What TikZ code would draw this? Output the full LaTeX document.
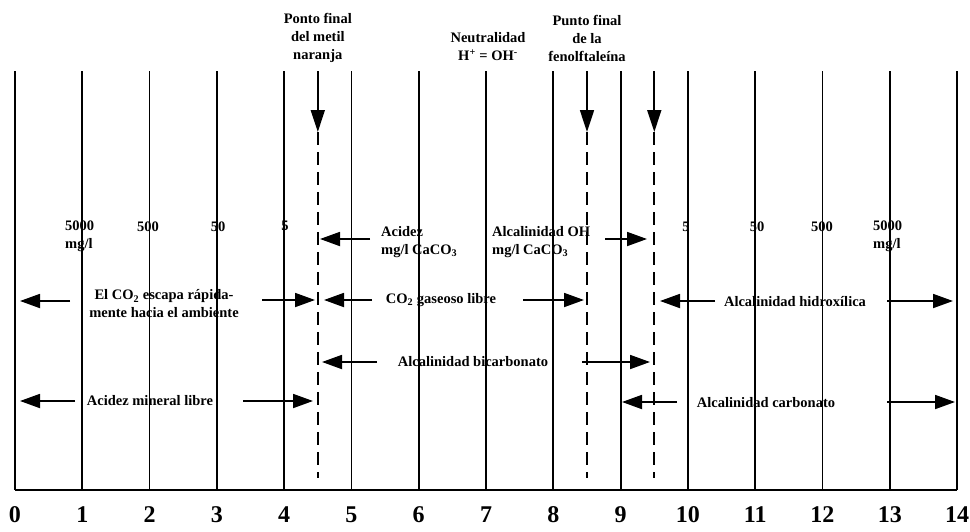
\documentclass[tikz,border=0pt]{standalone}
\usepackage{fontspec}
\setmainfont{Liberation Serif}
\usetikzlibrary{arrows.meta}
\begin{document}
\begin{tikzpicture}[x=1pt,y=-1pt,
  lbl/.style={font=\bfseries\fontsize{14.5}{18}\selectfont, align=center, inner sep=0pt},
  lbll/.style={font=\bfseries\fontsize{14.5}{18}\selectfont, align=left, inner sep=0pt, anchor=north west},
  num/.style={font=\bfseries\fontsize{24}{24}\selectfont, inner sep=0pt},
  phline/.style={line width=1.8pt},
  endline/.style={line width=1.8pt, dash pattern=on 13pt off 7pt},
  arr/.style={line width=1.8pt, -{Triangle[length=20pt,width=14pt]}},
  darr/.style={line width=1.7pt, -{Triangle[length=22pt,width=14pt]}}
]
\useasboundingbox (0,0) rectangle (970,531);

% pH lines and numbers
\foreach \i in {0,...,14} {
  \coordinate (top\i) at ({15+67.29*\i},71);
  \coordinate (bot\i) at ({15+67.29*\i},490);
  \draw[phline] (top\i) -- (bot\i);
  \node[num] (n\i) at ({15+67.29*\i},515) {\i};
}
\draw[line width=1.5pt] (bot0) -- (bot14);

% end-point markers (arrows + dashed lines)
\foreach \nm/\x in {mo/317.8, fa/587.0, fb/654.3} {
  \coordinate (\nm t) at (\x,71);
  \coordinate (\nm b) at (\x,132);
  \coordinate (\nm e) at (\x,478);
  \draw[darr] (\nm t) -- (\nm b);
  \draw[endline] (\nm b) -- (\nm e);
}

% top labels
\node[lbl] (lmo) at (317.8,38) {Ponto final\\del metil\\naranja};
\node[lbl] (lneu) at (488,47) {Neutralidad\\H\textsuperscript{+} = OH\textsuperscript{-}};
\node[lbl] (lff) at (587,38) {Punto final\\de la\\fenolftaleína};

% concentration labels
\node[lbll] (c5000a) at (65,221) {5000\\mg/l};
\node[lbl] (c500a) at (148,227) {500};
\node[lbl] (c50a) at (218,227) {50};
\node[lbl] (c5a) at (285,226) {5};
\node[lbl] (c5b) at (686,227) {5};
\node[lbl] (c50b) at (757,227) {50};
\node[lbl] (c500b) at (822,227) {500};
\node[lbll] (c5000b) at (873,221) {5000\\mg/l};

% row 1
\node[lbll] (lacid) at (381,226) {Acidez\\mg/l CaCO\textsubscript{3}};
\node[lbll] (lalkoh) at (492,226) {Alcalinidad OH\\mg/l CaCO\textsubscript{3}};
\coordinate (r1a) at (370,239); \coordinate (r1b) at (320,239);
\coordinate (r1c) at (605,239); \coordinate (r1d) at (647,239);
\draw[arr] (r1a) -- (r1b);
\draw[arr] (r1c) -- (r1d);

% row 2
\node[lbl] (lco2esc) at (164,304) {El CO\textsubscript{2} escapa rápida-\\mente hacia el ambiente};
\node[lbl] (lco2gas) at (441,300) {CO\textsubscript{2} gaseoso libre};
\node[lbl] (lhidrox) at (795,302) {Alcalinidad hidroxílica};
\coordinate (r2a) at (70,301); \coordinate (r2b) at (20,301);
\coordinate (r2c) at (262,300); \coordinate (r2d) at (315,300);
\coordinate (r2e) at (372,300); \coordinate (r2f) at (324,300);
\coordinate (r2g) at (523,300); \coordinate (r2h) at (584,300);
\coordinate (r2i) at (715,301); \coordinate (r2j) at (660,301);
\coordinate (r2k) at (887,301); \coordinate (r2l) at (953,301);
\draw[arr] (r2a) -- (r2b);
\draw[arr] (r2c) -- (r2d);
\draw[arr] (r2e) -- (r2f);
\draw[arr] (r2g) -- (r2h);
\draw[arr] (r2i) -- (r2j);
\draw[arr] (r2k) -- (r2l);

% row 3
\node[lbl] (lbicarb) at (473,362) {Alcalinidad bicarbonato};
\coordinate (r3a) at (377,362); \coordinate (r3b) at (322,362);
\coordinate (r3c) at (582,362); \coordinate (r3d) at (650,362);
\draw[arr] (r3a) -- (r3b);
\draw[arr] (r3c) -- (r3d);

% row 4
\node[lbl] (lmin) at (150,401) {Acidez mineral libre};
\node[lbl] (lcarb) at (766,403) {Alcalinidad carbonato};
\coordinate (r4a) at (75,401); \coordinate (r4b) at (20,401);
\coordinate (r4c) at (243,401); \coordinate (r4d) at (313,401);
\coordinate (r4e) at (677,402); \coordinate (r4f) at (622,402);
\coordinate (r4g) at (887,402); \coordinate (r4h) at (955,402);
\draw[arr] (r4a) -- (r4b);
\draw[arr] (r4c) -- (r4d);
\draw[arr] (r4e) -- (r4f);
\draw[arr] (r4g) -- (r4h);
\end{tikzpicture}
\end{document}
